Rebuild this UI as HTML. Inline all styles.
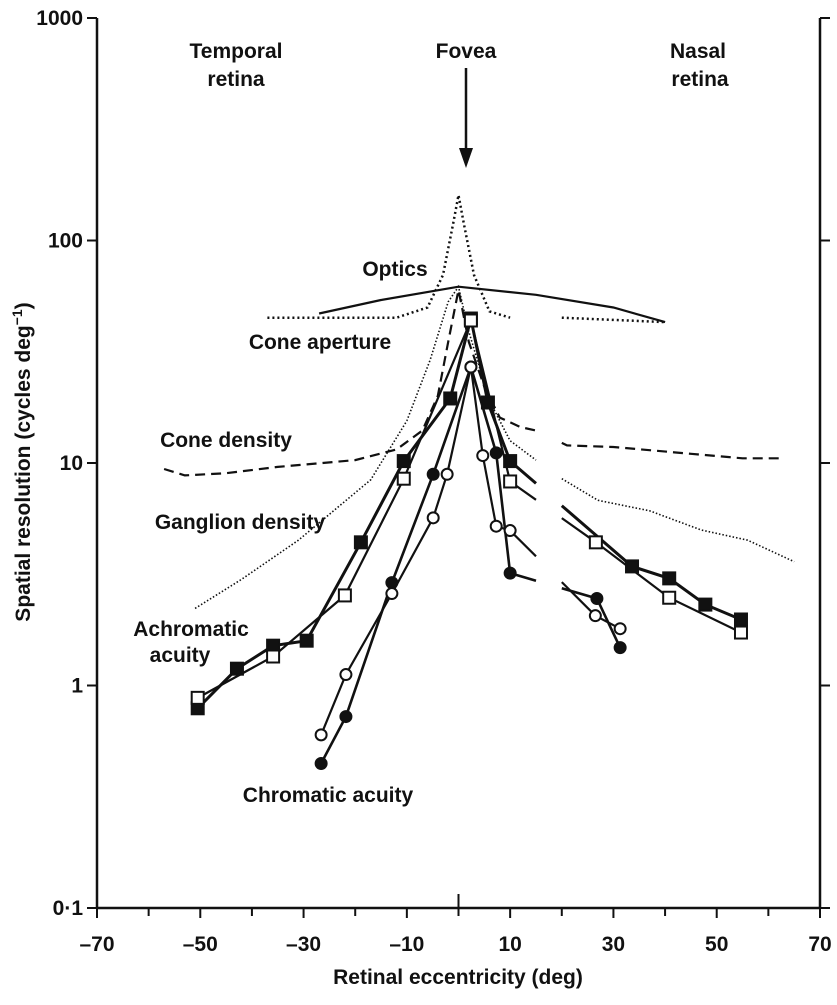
<!DOCTYPE html>
<html><head><meta charset="utf-8"><style>
body{margin:0;background:#fff}
svg text{font-family:"Liberation Sans",sans-serif;fill:#111;font-weight:bold}
</style></head><body>
<svg id="chart" width="837" height="1000" viewBox="0 0 837 1000" xmlns="http://www.w3.org/2000/svg">
<g id="axes"></g>
<g id="series"></g>
<g id="labels">
<text x="236" y="58" font-size="21" text-anchor="middle">Temporal</text>
<text x="236" y="86" font-size="21" text-anchor="middle">retina</text>
<text x="466" y="58" font-size="21" text-anchor="middle">Fovea</text>
<text x="698" y="58" font-size="21" text-anchor="middle">Nasal</text>
<text x="700" y="86" font-size="21" text-anchor="middle">retina</text>
<line x1="466" y1="68" x2="466" y2="152" stroke="#111" stroke-width="2.5"/>
<polygon points="459,148 473,148 466,168" fill="#111"/>
<text x="395" y="276" font-size="21" text-anchor="middle">Optics</text>
<text x="320" y="349" font-size="21" text-anchor="middle">Cone aperture</text>
<text x="226" y="447" font-size="21" text-anchor="middle">Cone density</text>
<text x="240" y="529" font-size="21" text-anchor="middle">Ganglion density</text>
<text x="191" y="636" font-size="21" text-anchor="middle">Achromatic</text>
<text x="180" y="662" font-size="21" text-anchor="middle">acuity</text>
<text x="328" y="802" font-size="21" text-anchor="middle">Chromatic acuity</text>
<text x="458" y="984" font-size="21" text-anchor="middle">Retinal eccentricity (deg)</text>
<text transform="translate(30,462) rotate(-90)" font-size="21" text-anchor="middle">Spatial resolution (cycles deg<tspan font-size="14" dy="-8">−1</tspan><tspan dy="8">)</tspan></text>
</g>
</svg>
<script>
const xTicks=[-70,-50,-30,-10,10,30,50,70];
const xMinor=[-60,-40,-20,0,20,40,60];
const yTicks=[1000,100,10,1,0.1];
const yTickLabels=["1000","100","10","1","0·1"];
const gap=[15,20];
const achFX=[-50.5,-42.9,-35.9,-29.4,-18.9,-10.6,-1.6,2.4,5.7,10,33.6,40.8,47.8,54.7];
const achFY=[0.79,1.19,1.51,1.59,4.4,10.2,19.5,44.6,18.7,10.2,3.43,3.03,2.31,1.98];
const achOX=[-50.5,-35.9,-22,-10.6,2.4,10,26.6,40.8,54.7];
const achOY=[0.88,1.35,2.54,8.5,43.7,8.26,4.4,2.48,1.73];
const chrFX=[-26.6,-21.8,-12.9,-4.9,2.4,7.3,10,26.8,31.3];
const chrFY=[0.446,0.725,2.9,8.9,27,11.1,3.2,2.46,1.48];
const chrOX=[-26.6,-21.8,-12.9,-4.9,-2.2,2.4,4.7,7.3,10,26.5,31.3];
const chrOY=[0.6,1.12,2.59,5.67,8.9,27,10.8,5.2,4.97,2.06,1.8];
const opticsX=[-27,-15,0,15,30,40];
const opticsY=[47,54,62,57,50,43];
const apertX=[-37,-12,-6,-3,-1,0,1,3,6,10,16,20,40];
const apertY=[45,45,50,70,120,160,120,70,48,45,45,45,43];
const coneX=[-57,-53,-45,-35,-20,-12,-7,-4,-2,0,2,5,8,12,15,21,30,45,55,63];
const coneY=[9.4,8.8,9.0,9.6,10.3,11.5,14,20,35,60,35,22,16,14.5,14,12,11.8,11,10.5,10.5];
const gangX=[-51,-42,-31,-17,-10,-5.5,-2,0,2,6,10,15,20,27,37,47,56,65];
const gangY=[2.22,3.0,4.5,8.4,15.5,29,53,62,39,19,12.6,10.3,8.5,6.8,6.1,5,4.5,3.6];

const NS="http://www.w3.org/2000/svg";
const X0=97,X1=820,Y0=908,Y1=18;
const sx=d=>X0+(d+70)/140*(X1-X0);
const sy=v=>Y0-(Math.log10(v)+1)/4*(Y0-Y1);
function mk(tag,parent,attrs){const e=document.createElementNS(NS,tag);for(const k in attrs)e.setAttribute(k,attrs[k]);parent.appendChild(e);return e;}
const axes=document.getElementById('axes');
const ser=document.getElementById('series');
let e;
e=mk('line',axes,{x1:X0,y1:Y1,x2:X0,y2:Y0,stroke:'#111','stroke-width':2.5});


e=mk('line',axes,{x1:X1,y1:Y1,x2:X1,y2:Y0,stroke:'#111','stroke-width':2.5});


e=mk('line',axes,{x1:X0,y1:Y0,x2:X1,y2:Y0,stroke:'#111','stroke-width':2.5});


xTicks.forEach(t=>{
 e=mk('line',axes,{x1:sx(t),y1:Y0,x2:sx(t),y2:Y0+10,stroke:'#111','stroke-width':2});
 
 
 e=mk('text',axes,{x:sx(t),y:Y0+43,'font-size':21,'text-anchor':'middle'});
 e.textContent=(t<0?'\u2013'+(-t):String(t));
 
 
});
xMinor.forEach(t=>{
 e=mk('line',axes,{x1:sx(t),y1:Y0,x2:sx(t),y2:Y0+8,stroke:'#111','stroke-width':2});
 
 
});
e=mk('line',axes,{x1:sx(0),y1:Y0,x2:sx(0),y2:Y0-14,stroke:'#111','stroke-width':2});


yTicks.forEach((t,i)=>{
 e=mk('line',axes,{x1:X0-10,y1:sy(t),x2:X0,y2:sy(t),stroke:'#111','stroke-width':2});
 
 
 e=mk('line',axes,{x1:X1,y1:sy(t),x2:X1+10,y2:sy(t),stroke:'#111','stroke-width':2});
 
 
 e=mk('text',axes,{x:X0-14,y:sy(t)+7,'font-size':21,'text-anchor':'end'});
 e.textContent=yTickLabels[i];
 
 
});
function pts(xs,ys){return xs.map((x,i)=>[x,ys[i]]);}
function split(p){
 const L=p.filter(q=>q[0]<=gap[0]),R=p.filter(q=>q[0]>=gap[1]);
 const interp=(a,b,x)=>[x,Math.pow(10,Math.log10(a[1])+(Math.log10(b[1])-Math.log10(a[1]))*(x-a[0])/(b[0]-a[0]))];
 const mid=p.filter(q=>q[0]>gap[0]&&q[0]<gap[1]);
 if(L.length&&R.length&&!mid.length){
  const a=L[L.length-1],b=R[0];
  if(a[0]<gap[0]) L.push(interp(a,b,gap[0]));
  if(b[0]>gap[1]) R.unshift(interp(a,b,gap[1]));
 }
 return [L,R];
}
function path(p){return p.map((q,i)=>(i?'L':'M')+sx(q[0]).toFixed(1)+','+sy(q[1]).toFixed(1)).join('');}
function curve(xs,ys,name,style,noGap){
 const segs=noGap?[pts(xs,ys)]:split(pts(xs,ys));
 segs.forEach(seg=>{
  if(seg.length<2)return;
  e=mk('path',ser,Object.assign({d:path(seg),fill:'none',stroke:'#111'},style));
  
  
 });
}
curve(opticsX,opticsY,'optics-line',{'stroke-width':2.2},true);
curve(apertX,apertY,'cone-aperture-line',{'stroke-width':2.5,'stroke-dasharray':'2 3'});
curve(coneX,coneY,'cone-density-line',{'stroke-width':2.2,'stroke-dasharray':'10 6'});
curve(gangX,gangY,'ganglion-density-line',{'stroke-width':1.6,'stroke-dasharray':'1.5 2'});
curve(achFX,achFY,'achromatic-filled-line',{'stroke-width':3});
curve(achOX,achOY,'achromatic-open-line',{'stroke-width':2.2});
curve(chrFX,chrFY,'chromatic-filled-line',{'stroke-width':2.6});
curve(chrOX,chrOY,'chromatic-open-line',{'stroke-width':2.2});
function markers(xs,ys,shape,fill,name){
 xs.forEach((x,i)=>{
  const cx=sx(x),cy=sy(ys[i]);
  if(shape==='sq') e=mk('rect',ser,{x:cx-6,y:cy-6,width:12,height:12,fill:fill,stroke:'#111','stroke-width':2});
  else e=mk('circle',ser,{cx:cx,cy:cy,r:5.5,fill:fill,stroke:'#111','stroke-width':2});
  
  
 });
}
markers(achFX,achFY,'sq','#111','achromatic-filled-square');
markers(achOX,achOY,'sq','#fff','achromatic-open-square');
markers(chrFX,chrFY,'ci','#111','chromatic-filled-circle');
markers(chrOX,chrOY,'ci','#fff','chromatic-open-circle');
</script>
</body></html>
